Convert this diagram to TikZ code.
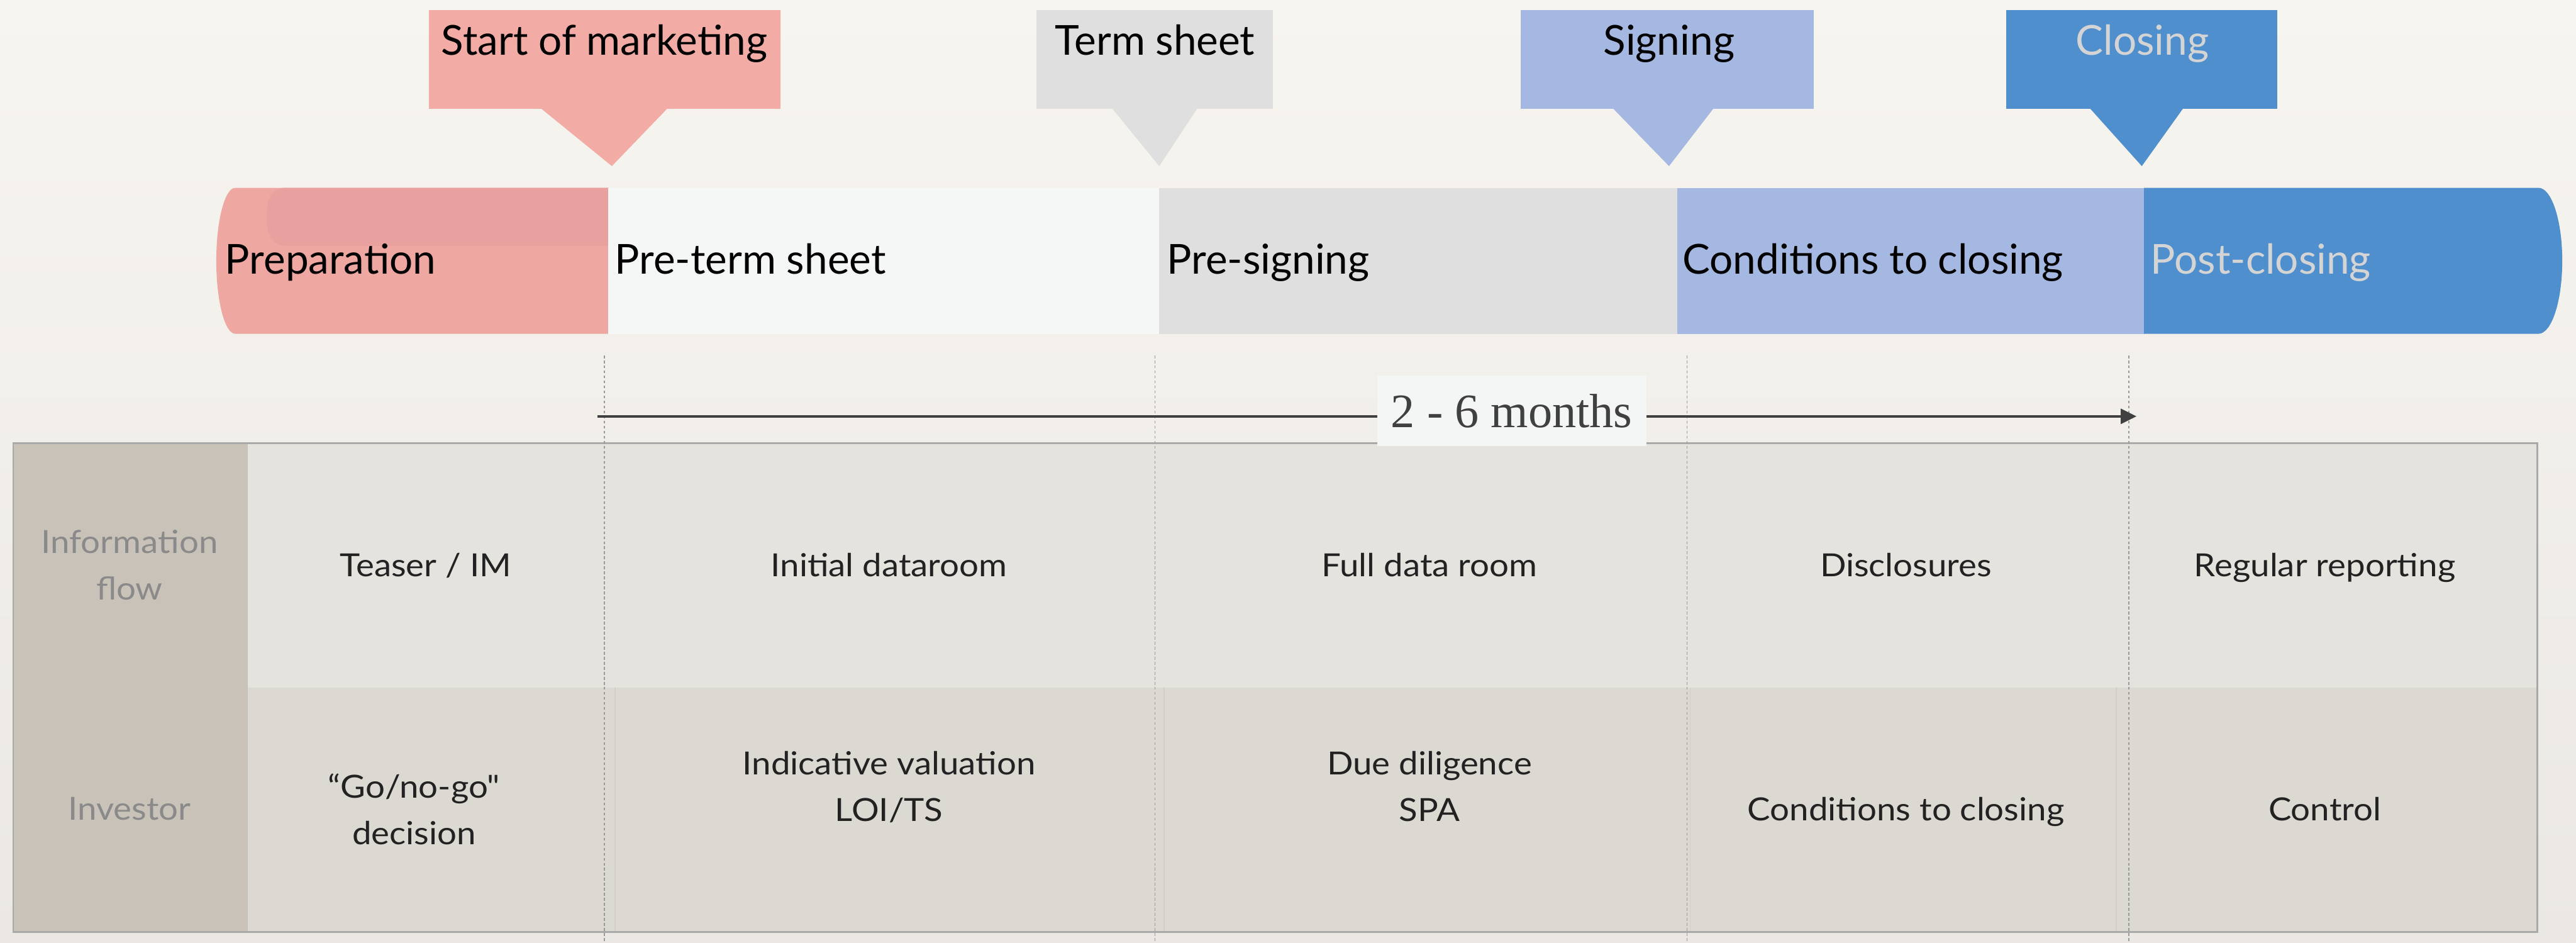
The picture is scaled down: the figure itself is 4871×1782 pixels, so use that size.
\documentclass[tikz,border=0pt]{standalone}
\usepackage{fontspec}
\setmainfont{Lato}
\newfontfamily\tabfont{Lato}[FakeStretch=1.08]
\newfontfamily\numfont{Liberation Serif}
\usetikzlibrary{arrows.meta}
\definecolor{bgtop}{HTML}{F7F5F0}
\definecolor{bgbot}{HTML}{EBE8E3}
\definecolor{pinkbox}{HTML}{F3ABA5}
\definecolor{prepc}{HTML}{EEA7A1}
\definecolor{prepdark}{HTML}{E8A19E}
\definecolor{greybox}{HTML}{DFDFDF}
\definecolor{pretermc}{HTML}{F5F7F6}
\definecolor{lblue}{HTML}{A4B8E1}
\definecolor{dblue}{HTML}{4F8FCD}
\definecolor{lighttext}{HTML}{D4D4D4}
\definecolor{headc}{HTML}{C9C2B9}
\definecolor{row1c}{HTML}{E5E3DE}
\definecolor{row2c}{HTML}{DCD8D2}
\definecolor{tborder}{HTML}{A9A9A9}
\definecolor{guide}{HTML}{9A9A9A}
\definecolor{faintsep}{HTML}{D2CEC8}
\definecolor{celltext}{HTML}{222222}
\definecolor{headtext}{HTML}{8A8A8A}
\definecolor{arrowc}{HTML}{404040}
\definecolor{monthbg}{HTML}{F4F6F5}
\begin{document}
\begin{tikzpicture}[x=0.01cm,y=-0.01cm,
  toplabel/.style={inner sep=0pt, anchor=base, font=\fontsize{22.2pt}{26pt}\selectfont},
  barlabel/.style={inner sep=0pt, anchor=base west, font=\fontsize{22.2pt}{26pt}\selectfont},
  cell/.style={inner sep=0pt, anchor=base, align=center, text=celltext, font=\tabfont\fontsize{17.1pt}{25pt}\selectfont},
  rowhead/.style={cell, text=headtext},
  vguide/.style={draw=guide, line width=0.6pt, dash pattern=on 1.5pt off 1.2pt},
]
\useasboundingbox (0,0) rectangle (4871,1782);
\shade[top color=bgtop, bottom color=bgbot] (0,0) rectangle (4871,1782);

% callouts
\fill[pinkbox] (811,19) rectangle (1476,206);
\fill[pinkbox] (1023,205) -- (1157,314) -- (1262,205) -- cycle;
\node[toplabel] (mstart) at (1143,104) {Start of marketing};
\fill[greybox] (1960,19) rectangle (2407,206);
\fill[greybox] (2103,205) -- (2192,314) -- (2264,205) -- cycle;
\node[toplabel] (mterm) at (2184,104) {Term sheet};
\fill[lblue] (2876,19) rectangle (3430,206);
\fill[lblue] (3050,205) -- (3156,314) -- (3240,205) -- cycle;
\node[toplabel] (msign) at (3156,104) {Signing};
\fill[dblue] (3794,19) rectangle (4306,206);
\fill[dblue] (3952,205) -- (4050,314) -- (4128,205) -- cycle;
\node[toplabel, text=lighttext] (mclose) at (4051,104) {Closing};

% timeline bar
\fill[prepc] (1151,355) -- (445,355) arc[start angle=270, end angle=90, x radius=36, y radius=138] -- (1151,631) -- cycle;
\fill[prepdark] (1151,355) -- (540,355) .. controls (512,355) and (504,380) .. (504,410) .. controls (504,445) and (515,465) .. (545,465) -- (1151,465) -- cycle;
\fill[pretermc] (1150,355) rectangle (2193,631);
\fill[greybox] (2192,355) rectangle (3172,631);
\fill[lblue] (3171,355) rectangle (4055,631);
\fill[dblue] (4054,355) -- (4800,355) arc[start angle=-90, end angle=90, x radius=45, y radius=138] -- (4054,631) -- cycle;
\node[barlabel] (prep) at (425,518) {Preparation};
\node[barlabel] (preterm) at (1162,518) {Pre-term sheet};
\node[barlabel] (presign) at (2206,518) {Pre-signing};
\node[barlabel] (cond) at (3181,518) {Conditions to closing};
\node[barlabel, text=lighttext] (post) at (4066,518) {Post-closing};

% table
\fill[headc] (25,838) rectangle (468,1762);
\fill[row1c] (468,838) rectangle (4798,1300);
\fill[row2c] (468,1300) rectangle (4798,1762);
\foreach \xx in {1163,2201,3196,4002}
  \draw[faintsep, line width=0.6pt] (\xx,1300) -- (\xx,1762);
\draw[tborder, line width=0.85pt] (25,838) rectangle (4798,1762);

\node[rowhead] (hinfo) at (245,1134) {Information\\flow};
\node[rowhead] (hinv) at (245,1550) {Investor};

\node[cell] (c11) at (805,1090) {Teaser / IM};
\node[cell] (c12) at (1681,1090) {Initial dataroom};
\node[cell] (c13) at (2703,1090) {Full data room};
\node[cell] (c14) at (3604,1090) {Disclosures};
\node[cell] (c15) at (4396,1090) {Regular reporting};

\node[cell] (c21) at (783,1596) {\char"201C Go/no-go"\\decision};
\node[cell] (c22) at (1681,1552) {Indicative valuation\\LOI/TS};
\node[cell] (c23) at (2703,1552) {Due diligence\\SPA};
\node[cell] (c24) at (3604,1551) {Conditions to closing};
\node[cell] (c25) at (4396,1551) {Control};

% guides
\foreach \xx in {1143,2184,3190,4025}
  \draw[vguide] (\xx,672) -- (\xx,1782);

% duration arrow
\coordinate (arrS) at (1130,787);
\coordinate (arrE) at (4040,787);
\draw[arrowc, line width=1.45pt, -{Triangle[length=8.5pt, width=8pt]}] (arrS) -- (arrE);
\node[fill=monthbg, minimum width=5.09cm, minimum height=1.33cm, inner sep=0pt,
      font=\numfont\fontsize{25.8pt}{30pt}\selectfont, text=arrowc] (months) at (2858.5,776.5) {2 - 6 months};
\end{tikzpicture}
\end{document}
